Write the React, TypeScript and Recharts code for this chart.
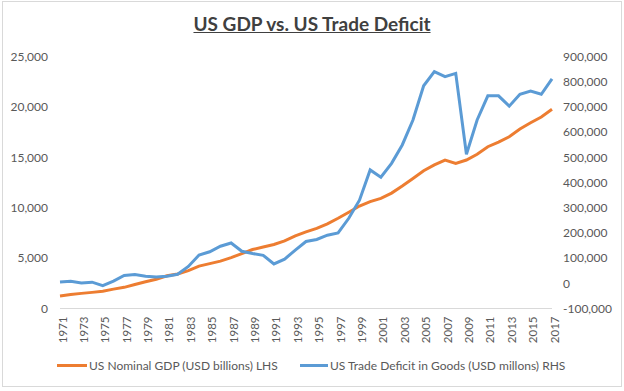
import React from 'react';
import { LineChart, Line, XAxis, YAxis } from 'recharts';

const years = [
  '1971', '1972', '1973', '1974', '1975', '1976', '1977', '1978', '1979', '1980',
  '1981', '1982', '1983', '1984', '1985', '1986', '1987', '1988', '1989', '1990',
  '1991', '1992', '1993', '1994', '1995', '1996', '1997', '1998', '1999', '2000',
  '2001', '2002', '2003', '2004', '2005', '2006', '2007', '2008', '2009', '2010',
  '2011', '2012', '2013', '2014', '2015', '2016', '2017',
];

// US nominal GDP, USD billions (left axis)
const gdp = [
  1240, 1380, 1500, 1600, 1720, 1920, 2100, 2380, 2650, 2900,
  3250, 3420, 3750, 4200, 4450, 4700, 5050, 5450, 5850, 6100,
  6350, 6700, 7200, 7600, 7950, 8400, 8950, 9550, 10170, 10600,
  10930, 11450, 12150, 12900, 13670, 14250, 14730, 14400, 14730, 15300,
  16050, 16500, 17040, 17800, 18430, 19000, 19760,
];

// US trade deficit in goods, USD millions (right axis)
const deficit = [
  5000, 8000, 1000, 4500, -9000, 9000, 31000, 35000, 28000, 25000,
  28000, 36000, 67000, 112000, 125000, 147000, 160000, 127000, 118000, 111000,
  77000, 96000, 132000, 166000, 174000, 191000, 200000, 258000, 330000, 450000,
  421000, 476000, 549000, 648000, 784000, 840000, 820000, 833000, 512000, 648000,
  744000, 744000, 703000, 750000, 763000, 750000, 811000,
];

const leftTicks = [0, 5000, 10000, 15000, 20000, 25000];
const rightTicks = [-100000, 0, 100000, 200000, 300000, 400000, 500000, 600000, 700000, 800000, 900000];

const FONT = 'Lato, "DejaVu Sans", sans-serif';
const GREY = '#595959';
const ORANGE = '#ED7D31';
const BLUE = '#5B9BD5';

const data = years.map((year, i) => ({ year, gdp: gdp[i], deficit: deficit[i] }));

const fmt = (v: number) => v.toLocaleString('en-US');

const YearTick = (props: any) => {
  const { x, y, payload } = props;
  const cx = x + 2;
  return (
    <text
      x={cx}
      y={y}
      transform={`rotate(-90 ${cx} ${y})`}
      textAnchor="end"
      dominantBaseline="central"
      fontSize={11.5}
      fontFamily={FONT}
      fill={GREY}
    >
      {payload.value}
    </text>
  );
};

const LegendItem = ({ color, label, left, lineWidth }: { color: string; label: string; left: number; lineWidth: number }) => (
  <div style={{ position: 'absolute', left, top: 357, display: 'flex', alignItems: 'center', height: 16 }}>
    <div style={{ width: lineWidth, height: 3, background: color, marginRight: 2 }} />
    <span style={{ fontSize: 12, fontFamily: FONT, color: GREY, whiteSpace: 'nowrap' }}>{label}</span>
  </div>
);

export default function App() {
  return (
    <div style={{ position: 'absolute', left: 0, top: 0, width: 624, height: 391, background: '#fff' }}>
      <div
        style={{
          position: 'absolute',
          left: 2,
          top: 1,
          width: 620,
          height: 386,
          border: '1px solid #d9d9d9',
          boxSizing: 'border-box',
        }}
      />
      <div
        style={{
          position: 'absolute',
          left: 0,
          top: 12,
          width: 624,
          textAlign: 'center',
          fontFamily: FONT,
          fontWeight: 700,
          fontSize: 19,
          color: '#404040',
          textDecoration: 'underline',
        }}
      >
        US GDP vs. US Trade Deficit
      </div>
      <div style={{ position: 'absolute', left: 0, top: 0 }}>
        <LineChart width={624} height={391} data={data} margin={{ top: 56.5, right: 0, bottom: 0, left: 0 }}>
          <XAxis
            dataKey="year"
            interval={1}
            height={82.5}
            stroke="#d9d9d9"
            tickLine={false}
            tick={<YearTick />}
          />
          <YAxis
            yAxisId="left"
            width={60}
            domain={[0, 25000]}
            ticks={leftTicks}
            tickFormatter={fmt}
            axisLine={false}
            tickLine={false}
            tickMargin={6}
            tick={{ fontSize: 12, fontFamily: FONT, fill: GREY }}
          />
          <YAxis
            yAxisId="right"
            orientation="right"
            width={72}
            domain={[-100000, 900000]}
            ticks={rightTicks}
            tickFormatter={fmt}
            axisLine={false}
            tickLine={false}
            tickMargin={5}
            tick={{ fontSize: 12, fontFamily: FONT, fill: GREY, textAnchor: 'start' }}
          />
          <Line
            yAxisId="left"
            dataKey="gdp"
            type="linear"
            stroke={ORANGE}
            strokeWidth={3}
            dot={false}
            isAnimationActive={false}
          />
          <Line
            yAxisId="right"
            dataKey="deficit"
            type="linear"
            stroke={BLUE}
            strokeWidth={3}
            dot={false}
            isAnimationActive={false}
          />
        </LineChart>
      </div>
      <LegendItem color={ORANGE} label="US Nominal GDP (USD billions) LHS" left={57} lineWidth={30} />
      <LegendItem color={BLUE} label="US Trade Deficit in Goods (USD millons) RHS" left={300} lineWidth={28} />
    </div>
  );
}
